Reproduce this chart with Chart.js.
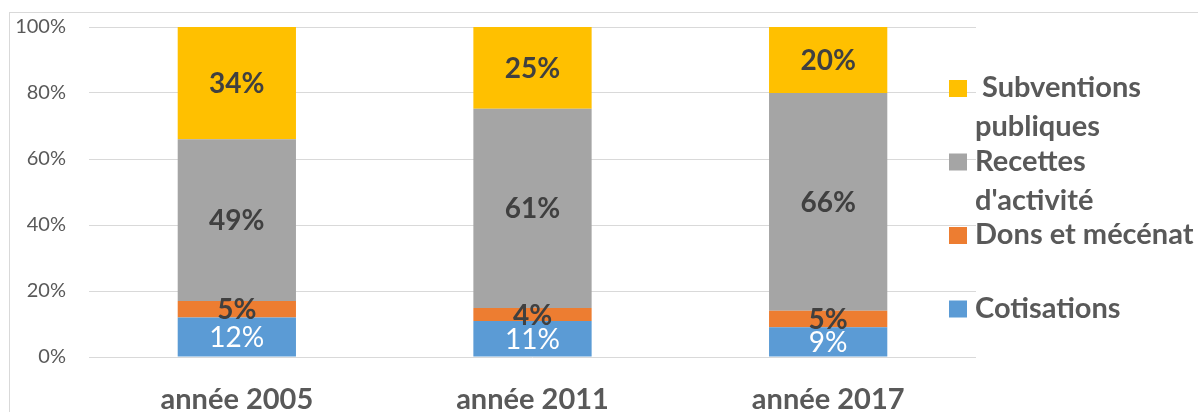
<!DOCTYPE html>
<html>
<head>
<meta charset="utf-8">
<script src="https://cdn.jsdelivr.net/npm/chart.js@4/dist/chart.umd.min.js"></script>
<style>
  html, body { margin: 0; padding: 0; background: #fff; }
  #wrap { position: relative; width: 1198px; height: 412px; }
</style>
</head>
<body>
<div id="wrap"><canvas id="myChart" width="1198" height="412"></canvas></div>
<script>
const categories = ['année 2005', 'année 2011', 'année 2017'];
const cotisations = [12, 11, 9];
const dons = [5, 4, 5];
const recettes = [49, 61, 66];
const subventions = [34, 25, 20];
const yTicks = [0, 20, 40, 60, 80, 100];

const textColor = '#595959';
const labelColor = '#404040';
const fontName = 'Lato, "Open Sans", sans-serif';

// 100% stacked: each bar is scaled to its own total
const totals = categories.map((c, i) => cotisations[i] + dons[i] + recettes[i] + subventions[i]);
const toPct = arr => arr.map((v, i) => v / totals[i] * 100);

const series = [
  { label: 'Cotisations', raw: cotisations, color: '#5b9bd5', labelColor: '#ffffff', bold: false },
  { label: 'Dons et mécénat', raw: dons, color: '#ed7d31', labelColor: labelColor, bold: true },
  { label: "Recettes d'activité", raw: recettes, color: '#a5a5a5', labelColor: labelColor, bold: true },
  { label: 'Subventions publiques', raw: subventions, color: '#ffc000', labelColor: labelColor, bold: true }
];

const framePlugin = {
  id: 'frame',
  beforeDraw(chart) {
    const c = chart.ctx;
    c.save();
    c.strokeStyle = '#d9d9d9';
    c.lineWidth = 1;
    c.strokeRect(9.5, 12.5, 1400, 600);
    c.restore();
  }
};

const valueLabels = {
  id: 'valueLabels',
  afterDatasetsDraw(chart) {
    const c = chart.ctx;
    c.save();
    c.textAlign = 'center';
    c.textBaseline = 'middle';
    chart.data.datasets.forEach((ds, di) => {
      const s = series[di];
      chart.getDatasetMeta(di).data.forEach((bar, i) => {
        const p = bar.getProps(['x', 'y', 'base'], true);
        c.fillStyle = s.labelColor;
        c.font = (s.bold ? 'bold ' : '') + '28px ' + fontName;
        c.fillText(s.raw[i] + '%', p.x, (p.y + p.base) / 2 + 1);
      });
    });
    c.restore();
  }
};

const sideLegend = {
  id: 'sideLegend',
  afterDraw(chart) {
    const c = chart.ctx;
    const area = chart.chartArea;
    const boxX = area.right - 27;
    const textX = area.right - 1;
    const slot = 73.5;
    const lineH = 39;
    const maxW = 222;
    c.save();
    c.font = 'bold 29px ' + fontName;
    c.textBaseline = 'middle';
    c.textAlign = 'left';
    const order = series.slice().reverse();
    order.forEach((s, k) => {
      const y0 = 88 + k * slot;
      c.fillStyle = s.color;
      c.fillRect(boxX, y0 - 8, 18, 17);
      // wrap words
      const words = s.label.split(' ');
      const lines = [];
      let cur = '';
      words.forEach(w => {
        const t = cur ? cur + ' ' + w : w;
        if (cur && c.measureText(t).width > maxW) {
          lines.push(cur);
          cur = w;
        } else {
          cur = t;
        }
      });
      lines.push(cur);
      c.fillStyle = textColor;
      lines.forEach((ln, j) => {
        const dx = (k === 0 && j === 0) ? 7 : 0;
        c.fillText(ln, textX + dx, y0 + j * lineH);
      });
    });
    c.restore();
  }
};

const ctx = document.getElementById('myChart').getContext('2d');
new Chart(ctx, {
  type: 'bar',
  data: {
    labels: categories,
    datasets: series.map(s => ({
      label: s.label,
      data: toPct(s.raw),
      backgroundColor: s.color,
      borderWidth: 0,
      barPercentage: 0.4,
      categoryPercentage: 1
    }))
  },
  options: {
    responsive: false,
    animation: false,
    layout: { padding: { left: 0, right: 222, top: 27, bottom: 0 } },
    plugins: {
      legend: { display: false },
      tooltip: { enabled: false }
    },
    scales: {
      x: {
        stacked: true,
        grid: { display: false, drawTicks: false },
        border: { display: false },
        ticks: {
          color: textColor,
          font: { family: fontName, size: 29, weight: 'bold' },
          padding: 25
        },
        afterFit(scale) { scale.height = 55; }
      },
      y: {
        stacked: true,
        min: 0,
        max: 100,
        afterBuildTicks(scale) { scale.ticks = yTicks.map(v => ({ value: v })); },
        grid: { color: '#d9d9d9', lineWidth: 1, drawTicks: false },
        border: { display: false },
        ticks: {
          color: textColor,
          font: { family: fontName, size: 20 },
          padding: 23,
          callback: v => v + '%'
        },
        afterFit(scale) {
          scale.width = 89;
          scale.paddingTop = 0;
          scale.paddingBottom = 0;
        }
      }
    }
  },
  plugins: [framePlugin, valueLabels, sideLegend]
});
</script>
</body>
</html>
